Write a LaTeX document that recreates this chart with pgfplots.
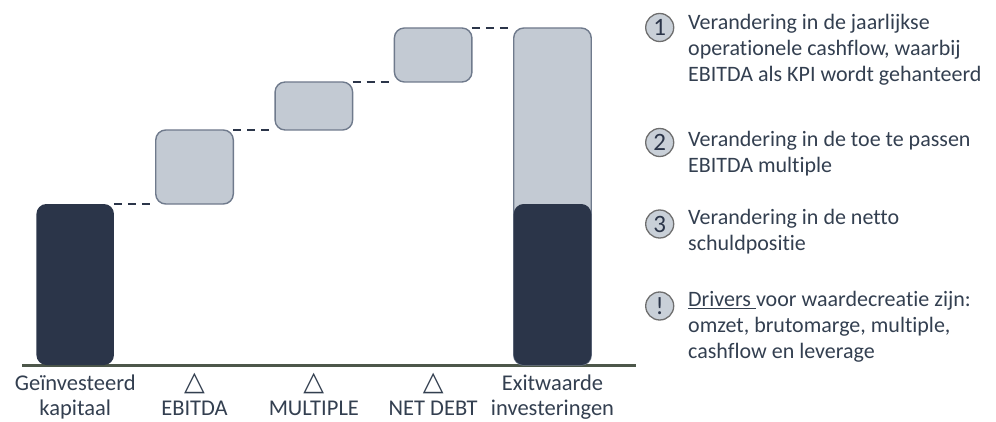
\documentclass[border=0pt]{standalone}
\usepackage{pgfplots}
\usepackage{pgfplotstable}
\pgfplotsset{compat=1.18}
\usepackage{fontspec}
\setmainfont{Carlito}[Ligatures=NoCommon]
\newfontfamily\symfont{DejaVu Sans}
\definecolor{navy}{HTML}{2B3549}
\definecolor{lightbox}{HTML}{C3CAD3}
\definecolor{boxedge}{HTML}{6F7A8C}
\definecolor{txt}{HTML}{333F50}
\definecolor{baseln}{HTML}{4D574A}
\definecolor{circfill}{HTML}{C9D0D8}
\definecolor{circedge}{HTML}{6E6E6E}

% floating steps: base and height
\pgfplotstableread{
x base delta
1 161 74
2 235 48
3 283 54
}\steps
% dark bars (invested capital / part of exit value)
\pgfplotstableread{
x value
0 161
4 161
}\darkbars
% total exit value
\pgfplotstableread{
x value
4 337
}\exitbar

\newcommand{\tri}{{\symfont\fontsize{27}{27}\selectfont △}}

\begin{document}
\begin{tikzpicture}[x=1pt,y=1pt]
\useasboundingbox (0,0) rectangle (996,421);
\pgfplotsset{common/.style={
  at={(22pt,56pt)}, anchor=south west,
  scale only axis, width=614pt, height=365pt,
  xmin=-0.446, xmax=4.70, ymin=0, ymax=365,
  clip=false}}
\begin{axis}[common,
  axis y line=none,
  axis x line=bottom,
  x axis line style={-, draw=baseln, line width=3pt},
  xtick={0,1,2,3,4}, major tick length=0pt,
  xticklabels={{\rule{0pt}{22pt}Geïnvesteerd\\kapitaal},
               {\rule{0pt}{22pt}\tri\\EBITDA},
               {\rule{0pt}{22pt}\tri\\MULTIPLE},
               {\rule{0pt}{22pt}\tri\\NET DEBT},
               {\rule{0pt}{22pt}Exitwaarde\\investeringen}},
  xticklabel style={anchor=north, yshift=-3pt, inner sep=0pt, align=center,
    font=\fontsize{22.5}{25}\selectfont, text=txt},
  ]
  \addplot[ybar, bar width=0.65, bar shift=0pt, fill=lightbox, draw=boxedge,
    line width=1.4pt, rounded corners=10pt] table[x=x,y=value]{\exitbar};
  \addplot[ybar, bar width=0.65, bar shift=0pt, fill=navy, draw=none,
    rounded corners=10pt] table[x=x,y=value]{\darkbars};
  \addplot[navy, line width=2.4pt, dash pattern=on 8pt off 6pt]
    coordinates {(0.325,161) (0.675,161)};
  \addplot[navy, line width=2.4pt, dash pattern=on 8pt off 6pt]
    coordinates {(1.325,235) (1.675,235)};
  \addplot[navy, line width=2.4pt, dash pattern=on 8pt off 6pt]
    coordinates {(2.325,283) (2.675,283)};
  \addplot[navy, line width=2.4pt, dash pattern=on 8pt off 6pt]
    coordinates {(3.325,337) (3.675,337)};
\end{axis}
\begin{axis}[common, hide axis, ybar stacked, bar width=0.65]
  \addplot[draw=none, fill=none] table[x=x,y=base]{\steps};
  \addplot[fill=lightbox, draw=boxedge, line width=1.4pt, rounded corners=10pt]
    table[x=x,y=delta]{\steps};
  \node[font=\fontsize{24}{24}\selectfont, text=navy] at (axis cs:1,198) {1};
  \node[font=\fontsize{24}{24}\selectfont, text=navy] at (axis cs:2,259) {2};
  \node[font=\fontsize{24}{24}\selectfont, text=navy] at (axis cs:3,310) {3};
\end{axis}
% notes on the right
\begin{scope}[every node/.style={font=\fontsize{22}{26}\selectfont, text=txt}]
  \foreach \yc/\lab in {393.5/1, 278.5/2, 197/3, 115/!}{
    \draw[circedge, fill=circfill, line width=1.3pt] (659.7,\yc) circle (14);
    \node[font=\fontsize{25}{25}\selectfont, text=navy] at (659.7,\yc) {\lab};
  }
  \node[anchor=north west, align=left, inner sep=0pt] at (688,409)
    {\rule{0pt}{17pt}Verandering in de jaarlijkse\\operationele cashflow, waarbij\\EBITDA als KPI wordt gehanteerd};
  \node[anchor=north west, align=left, inner sep=0pt] at (688,291.3)
    {\rule{0pt}{17pt}Verandering in de toe te passen\\EBITDA multiple};
  \node[anchor=north west, align=left, inner sep=0pt] at (688,213.7)
    {\rule{0pt}{17pt}Verandering in de netto\\schuldpositie};
  \node[anchor=north west, align=left, inner sep=0pt] at (688,131.3)
    {\rule{0pt}{17pt}\underline{Drivers\ }voor waardecreatie zijn:\\omzet, brutomarge, multiple,\\cashflow en leverage};
\end{scope}
\end{tikzpicture}
\end{document}
